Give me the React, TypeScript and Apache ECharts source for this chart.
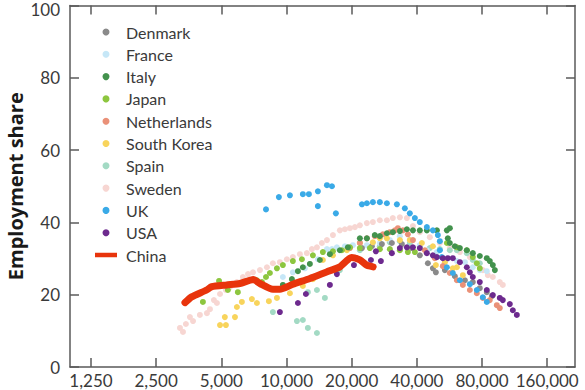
import React, { useEffect, useRef } from 'react';
import * as echarts from 'echarts';

// GDP per capita tick values (log2 axis) and employment share ticks
const xTickValues = [1250, 2500, 5000, 10000, 20000, 40000, 80000, 160000];
const xMin = 1000;
const xMax = 215000;

const legendOrder = ['Denmark', 'France', 'Italy', 'Japan', 'Netherlands', 'South Korea', 'Spain', 'Sweden', 'UK', 'USA', 'China'];

const colors: Record<string, string> = {
  Denmark: '#8a8a8a',
  France: '#c6e7f7',
  Italy: '#43924d',
  Japan: '#8dc63f',
  Netherlands: '#ea9178',
  'South Korea': '#f8d45c',
  Spain: '#a3dac4',
  Sweden: '#f7d6d2',
  UK: '#3aaae7',
  USA: '#6d2a8e',
  China: '#e8340c',
};

// [GDP per capita, employment share]
const sweden: [number, number][] = [
  [3220, 10.8], [3325, 9.7], [3430, 11.9], [3580, 13.8], [3700, 12.7], [3980, 14.4], [4290, 14.9], [4430, 16.0],
  [4620, 18.5], [4770, 17.7], [4930, 20.2], [5250, 21.3], [5480, 22.1], [5900, 23.5], [6290, 24.9], [6640, 25.7],
  [7000, 26.2], [7540, 26.8], [8120, 27.6], [8650, 28.7], [9320, 29.0], [10040, 29.8], [10700, 30.4], [11530, 31.2],
  [12420, 31.5], [13100, 32.6], [13820, 33.1], [14570, 34.3], [15370, 35.1], [16380, 36.5], [17640, 37.8], [18600, 38.1],
  [19630, 38.4], [20700, 38.7], [21820, 39.2], [23500, 39.8], [25060, 40.1], [26980, 40.6], [29080, 40.6], [30980, 41.2],
  [33380, 41.4], [35960, 41.2], [38360, 39.0], [41280, 37.3], [45920, 35.9], [51080, 34.3], [56800, 32.9], [63200, 31.8],
  [70280, 30.4], [76520, 28.5], [80680, 26.8], [85090, 25.4], [89730, 24.9], [96640, 23.5], [99760, 22.7],
];

const spain: [number, number][] = [
  [8650, 15.2], [11170, 12.7], [11900, 13.0], [12550, 10.8], [13820, 9.4], [12550, 20.7], [13820, 21.3], [15040, 19.1],
  [17640, 26.8], [19630, 30.1], [21820, 32.3], [24260, 33.1], [26980, 33.4], [30020, 34.5], [33380, 34.8], [37120, 34.3],
  [41280, 33.4], [45920, 32.9], [51080, 32.6], [56800, 32.3], [61200, 32.3], [68060, 31.5], [72520, 29.6], [78120, 28.7],
];

const france: [number, number][] = [
  [9620, 24.9], [10700, 26.2], [12160, 27.3], [13960, 29.8], [15370, 32.6], [16210, 32.6], [17090, 33.1], [18600, 33.4],
  [20260, 33.7], [21820, 34.5], [23500, 33.7], [25060, 34.3], [26980, 34.3], [30020, 35.1], [33380, 36.2], [37120, 35.1],
  [41280, 33.7], [44480, 32.3], [49480, 31.8], [55040, 29.8], [61200, 29.3], [66680, 29.0], [72520, 27.6], [78120, 26.8],
  [84160, 26.5],
];

const denmark: [number, number][] = [
  [22300, 32.9], [24780, 33.4], [27580, 34.0], [30660, 34.3], [34100, 34.0], [37920, 32.9], [41280, 30.9], [44960, 28.7],
  [47440, 27.3], [48960, 26.2], [53880, 26.8], [59920, 25.1], [66680, 24.0], [72520, 23.5], [78120, 21.8], [84160, 20.7],
  [88800, 19.6],
];

const southKorea: [number, number][] = [
  [4930, 11.6], [5250, 11.6], [5190, 13.8], [5780, 13.8], [5900, 16.6], [6220, 18.0], [6920, 18.8], [7300, 17.7],
  [8290, 18.2], [9030, 19.1], [10370, 20.4], [11900, 22.4], [13240, 24.3], [14720, 29.6], [16380, 30.9], [19000, 32.3],
  [21820, 34.3], [25060, 34.5], [26980, 35.6], [29080, 35.6], [33380, 35.1], [37120, 35.1], [42180, 34.3], [47440, 33.4],
  [48960, 28.2], [53880, 29.0], [58640, 27.3], [61200, 27.6], [65240, 25.4],
];

const netherlands: [number, number][] = [
  [19630, 32.9], [21820, 34.3], [23500, 35.6], [25580, 36.2], [27860, 36.7], [30020, 37.3], [31660, 37.8], [32680, 38.4],
  [34480, 37.8], [36360, 36.7], [38360, 35.1], [43560, 32.3], [48440, 30.1], [52720, 27.9], [56800, 26.0], [61200, 24.0],
  [65240, 22.7], [70280, 21.3], [75680, 20.4], [80680, 19.1], [86880, 18.5], [93600, 17.1], [96640, 16.3],
];

const japan: [number, number][] = [
  [4110, 18.0], [4880, 23.8], [5360, 21.3], [5960, 20.7], [7300, 24.0], [7700, 23.5], [8040, 24.9], [8380, 26.0],
  [9030, 27.3], [9620, 28.2], [10700, 29.3], [11780, 29.8], [13240, 30.9], [14720, 31.8], [16380, 32.0], [18020, 32.3],
  [19630, 33.1], [21820, 32.9], [24260, 32.9], [26980, 32.6], [30020, 32.6], [33380, 32.3], [36360, 31.8], [39160, 31.8],
  [55040, 34.3], [61200, 33.1], [68060, 32.3], [72520, 30.4], [75680, 28.7], [78120, 27.3],
];

const italy: [number, number][] = [
  [9620, 22.7], [10590, 24.3], [11290, 26.5], [11900, 27.6], [12820, 28.5], [14260, 29.6], [15860, 31.2], [17640, 32.3],
  [19210, 33.1], [21820, 35.6], [23500, 35.6], [25580, 36.5], [26980, 36.2], [29080, 37.0], [30980, 37.3], [33380, 37.6],
  [35960, 38.1], [38360, 37.8], [41280, 37.8], [44480, 37.8], [49480, 37.8], [55040, 37.8], [56800, 38.4], [55600, 35.6],
  [56800, 34.3], [59920, 33.4], [63200, 32.9], [68060, 32.3], [72520, 31.5], [78120, 30.7], [84160, 30.1], [86880, 29.3],
  [89730, 28.2], [91680, 26.8],
];

const uk: [number, number][] = [
  [8040, 43.6], [9220, 47.0], [10370, 47.5], [11900, 47.8], [12690, 47.8], [13960, 48.6], [13960, 44.5], [15370, 50.3],
  [16210, 50.0], [16900, 42.5], [22300, 45.0], [23500, 45.3], [25060, 45.6], [26980, 45.6], [29080, 45.3], [32340, 45.0],
  [35200, 43.9], [37120, 42.5], [39160, 41.2], [41280, 40.1], [44480, 38.7], [47440, 37.8], [50000, 36.5], [51080, 34.8],
  [51080, 32.3], [52160, 30.4], [55040, 27.6], [58640, 26.0], [63200, 24.0], [70280, 22.9], [75680, 21.3], [80680, 19.3],
  [84160, 18.0],
];

const usa: [number, number][] = [
  [9320, 15.2], [11290, 17.7], [12290, 20.2], [15860, 22.7], [17090, 25.7], [20480, 28.2], [24540, 29.6], [25860, 32.0],
  [27280, 29.3], [30660, 31.5], [33380, 32.9], [35960, 33.1], [38360, 33.1], [41280, 32.9], [44480, 31.5], [47440, 30.9],
  [49480, 30.4], [52720, 30.1], [55600, 30.1], [58640, 30.1], [63200, 29.0], [68060, 27.6], [70280, 26.2], [72520, 24.9],
  [78120, 23.5], [84160, 21.3], [89730, 19.9], [96640, 19.1], [99760, 18.5], [107500, 17.4], [111000, 15.7], [115800, 14.4],
];

const china: [number, number][] = [
  [3396, 17.8], [3647, 19.4], [4275, 21.3], [4509, 22.2], [5289, 22.7], [6093, 23.1], [7018, 24.2], [7537, 23.1],
  [8652, 21.5], [9323, 21.5], [10703, 22.9], [12826, 24.5], [15318, 26.3], [17641, 27.7], [19975, 30.3], [21823, 29.6],
  [23436, 28.2], [25131, 27.7],
];

// drawing order (bottom to top)
const scatterSeries: [string, [number, number][]][] = [
  ['Sweden', sweden], ['Spain', spain], ['France', france], ['Denmark', denmark], ['South Korea', southKorea],
  ['Netherlands', netherlands], ['Japan', japan], ['Italy', italy], ['UK', uk], ['USA', usa],
];

const FONT = 'Lato';
const AXIS_COLOR = '#5a5a5a';
const LABEL_COLOR = '#3a3a3a';

export default function App() {
  const ref = useRef<HTMLDivElement>(null);
  useEffect(() => {
    const chart = echarts.init(ref.current!, null, { renderer: 'svg' });
    const xTicks = xTickValues.map((v) => Math.log2(v));
    const lineStyle = { color: AXIS_COLOR, width: 1.5 };
    const labelText = { fontFamily: FONT, fontSize: 17, lineHeight: 14, color: LABEL_COLOR };
    const xBase = {
      type: 'value' as const,
      min: Math.log2(xMin),
      max: Math.log2(xMax),
      splitLine: { show: false },
      axisLine: { show: true, onZero: false, lineStyle },
      axisTick: { show: true, inside: true, length: 9, customValues: xTicks, lineStyle },
    };
    const yBase = {
      type: 'value' as const,
      min: 0,
      max: 100,
      interval: 20,
      splitLine: { show: false },
      axisLine: { show: true, onZero: false, lineStyle },
      axisTick: { show: true, inside: true, length: 9, lineStyle },
    };
    chart.setOption({
      animation: false,
      grid: { left: 70, right: 10, top: 5.5, bottom: 23, containLabel: false, outerBoundsMode: 'none' },
      legend: {
        orient: 'vertical',
        left: 95,
        top: 21,
        padding: 0,
        itemWidth: 22,
        itemHeight: 7,
        itemGap: 0.3,
        data: legendOrder.map((n) =>
          n === 'China' ? { name: n, icon: 'path://M0,0H22V4.5H0Z' } : { name: n, icon: 'circle' }
        ),
        textStyle: { fontFamily: FONT, fontSize: 16, color: LABEL_COLOR, lineHeight: 22, padding: [0, 0, 0, 4] },
      },
      xAxis: [
        {
          ...xBase,
          position: 'bottom',
          axisLabel: {
            ...labelText,
            customValues: xTicks,
            formatter: (v: number) => Math.round(Math.pow(2, v)).toLocaleString('en-US'),
            margin: 6,
          },
        },
        { ...xBase, position: 'top', axisLabel: { show: false } },
      ],
      yAxis: [
        {
          ...yBase,
          position: 'left',
          axisLabel: {
            ...labelText,
            margin: 10,
            formatter: (v: number) => (v === 100 ? '{t|100}' : String(v)),
            rich: { t: { ...labelText, padding: [8, 0, 0, 0] } },
          },
          name: 'Employment share',
          nameLocation: 'middle',
          nameGap: 45,
          nameMoveOverlap: false,
          nameTextStyle: { fontFamily: 'Open Sans', fontWeight: 'bold', fontSize: 20, color: '#1a1a1a' },
        },
        { ...yBase, position: 'right', axisLabel: { show: false } },
      ],
      series: [
        ...scatterSeries.map(([name, data]) => ({
          type: 'scatter',
          name,
          data: data.map(([g, s]) => [Math.log2(g), s]),
          symbolSize: 6,
          itemStyle: { color: colors[name], opacity: 1 },
        })),
        {
          type: 'line',
          name: 'China',
          data: china.map(([g, s]) => [Math.log2(g), s]),
          symbol: 'none',
          smooth: 0.2,
          lineStyle: { width: 7, color: colors.China, cap: 'round', join: 'round' },
          itemStyle: { color: colors.China },
          z: 5,
        },
      ],
    });
    return () => chart.dispose();
  }, []);
  return <div ref={ref} style={{ position: 'absolute', left: 0, top: 0, width: 585, height: 390 }} />;
}
